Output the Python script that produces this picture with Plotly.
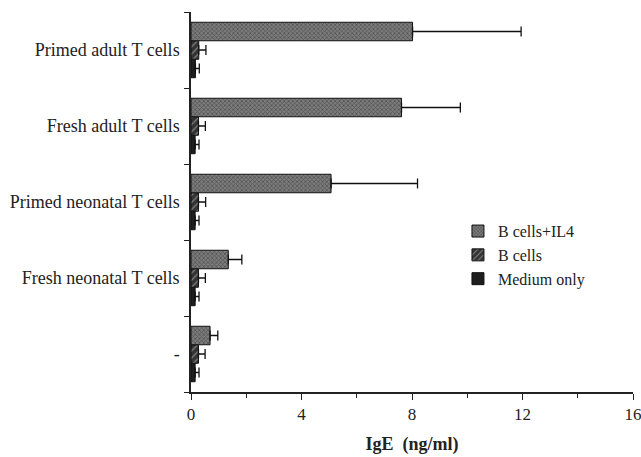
import plotly.graph_objects as go

categories = ["-", "Fresh neonatal T cells", "Primed neonatal T cells",
              "Fresh adult T cells", "Primed adult T cells"]

il4_vals = [0.69, 1.35, 5.07, 7.62, 8.02]
il4_err = [0.28, 0.49, 3.13, 2.13, 3.93]

bcell_vals = [0.27, 0.27, 0.27, 0.27, 0.28]
bcell_err = [0.24, 0.25, 0.26, 0.25, 0.26]

medium_vals = [0.15, 0.15, 0.15, 0.15, 0.16]
medium_err = [0.14, 0.14, 0.14, 0.14, 0.14]

x_ticks = [0, 4, 8, 12, 16]

FONT = "Liberation Serif, Times New Roman, serif"

def err(vals):
    return dict(type="data", array=vals, arrayminus=[0] * len(vals),
                symmetric=False, color="#111", thickness=1.3, width=5)

fig = go.Figure()
fig.add_trace(go.Bar(
    y=categories, x=medium_vals, orientation="h", name="Medium only",
    marker=dict(color="#1e1e1e", line=dict(color="#111", width=1)),
    error_x=err(medium_err)))
fig.add_trace(go.Bar(
    y=categories, x=bcell_vals, orientation="h", name="B cells",
    marker=dict(color="#333", line=dict(color="#111", width=1),
                pattern=dict(shape="/", fgcolor="#cfcfcf", bgcolor="#333",
                             size=5, solidity=0.25)),
    error_x=err(bcell_err)))
fig.add_trace(go.Bar(
    y=categories, x=il4_vals, orientation="h", name="B cells+IL4",
    marker=dict(color="#666", line=dict(color="#111", width=1),
                pattern=dict(shape="x", fgcolor="#262626", bgcolor="#7c7c7c",
                             size=3, solidity=0.45)),
    error_x=err(il4_err)))

fig.update_layout(
    width=641, height=457,
    margin=dict(l=191, r=8, t=12, b=65, autoexpand=False),
    paper_bgcolor="white", plot_bgcolor="white",
    barmode="group", bargap=0.27, bargroupgap=0,
    font=dict(family=FONT, size=17, color="#222"),
    showlegend=True,
    legend=dict(x=0.604, y=0.468, xanchor="left", yanchor="top",
                traceorder="reversed", bgcolor="rgba(0,0,0,0)",
                font=dict(family=FONT, size=16, color="#222"),
                tracegroupgap=0, itemwidth=30),
    xaxis=dict(range=[0, 16], tickvals=x_ticks, ticks="outside", ticklen=6,
               tickcolor="#222", showline=True, linecolor="#222", linewidth=1.5,
               showgrid=False, zeroline=False, automargin=False,
               ticklabeloverflow="allow",
               tickfont=dict(family=FONT, size=17),
               minor=dict(dtick=2, ticks="outside", ticklen=4, tickcolor="#222"),
               title=dict(text="<b>IgE  (ng/ml)</b>", font=dict(family=FONT, size=18),
                          standoff=14)),
    yaxis=dict(type="category", categoryorder="array", categoryarray=categories,
               tickson="boundaries", ticks="outside", ticklen=5, tickcolor="#222",
               tickfont=dict(family=FONT, size=18), ticklabelstandoff=6,
               showline=True, linecolor="#222", linewidth=1.5, showgrid=False,
               zeroline=False, range=[-0.5, 4.5], automargin=False),
)

fig.write_html("out.html")
